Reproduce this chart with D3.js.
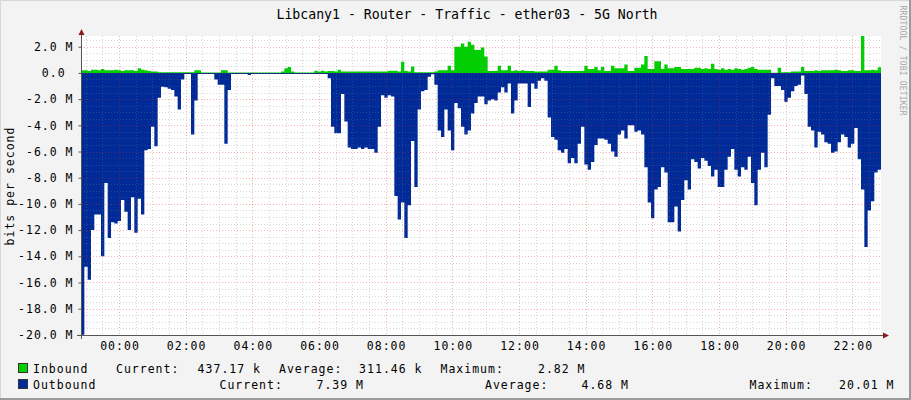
<!DOCTYPE html>
<html><head><meta charset="utf-8">
<script src="https://cdn.jsdelivr.net/npm/d3@7"></script>
<style>
html,body{margin:0;padding:0;background:#f3f3f3;}
svg{display:block;}
text{font-family:"DejaVu Sans Mono",monospace;fill:#000;}
</style></head><body>
<svg id="chart" width="911" height="400"></svg>
<script>
const title = "Libcany1 - Router - Traffic - ether03 - 5G North";
const yLabel = "bits per second";
const watermark = "RRDTOOL / TOBI OETIKER";
const seriesNames = ["Inbound", "Outbound"];
const seriesColors = ["#00CF00", "#002A97"];
const statLabels = ["Current:", "Average:", "Maximum:"];
const inboundStats = ["437.17 k", "311.46 k", "2.82 M"];
const outboundStats = ["7.39 M", "4.68 M", "20.01 M"];
const yMajorTicks = [2, 0, -2, -4, -6, -8, -10, -12, -14, -16, -18, -20];
const yTickLabels = ["2.0 M", "0.0 ", "-2.0 M", "-4.0 M", "-6.0 M", "-8.0 M", "-10.0 M", "-12.0 M", "-14.0 M", "-16.0 M", "-18.0 M", "-20.0 M"];
const xTickLabels = ["00:00","02:00","04:00","06:00","08:00","10:00","12:00","14:00","16:00","18:00","20:00","22:00"];
const yMin = -20.01, yMax = 2.82;          // M bits/s
const startOffsetMin = -68.4;             // data start, minutes from 00:00
const spanMin = 1440;
const stepMin = 6;

// Inbound, M bits/s, one value per 6-minute step
const inbound = [
 0.2,0.2,0.15,0.25,0.25,0.2,0.3,0.2,0.2,0.2,
 0.25,0.2,0.15,0.2,0.2,0.2,0.15,0.35,0.25,0.2,
 0.15,0.1,0.1,0.05,0.05,0.05,0.05,0.05,0.05,0.05,
 0.05,0.05,0.05,0.05,0.2,0.2,0.03,0.03,0.03,0.03,
 0.03,0.03,0.2,0.2,0.03,0.03,0.03,0.03,0.03,0.03,
 0.03,0.03,0.03,0.03,0.03,0.03,0.03,0.03,0.03,0.03,
 0.1,0.35,0.45,0.1,0.03,0.03,0.03,0.03,0.03,0.03,
 0.17,0.1,0.17,0.1,0.15,0.15,0.1,0.25,0.1,0.1,
 0.1,0.1,0.1,0.1,0.1,0.1,0.1,0.1,0.1,0.1,
 0.1,0.1,0.17,0.17,0.17,0.1,0.85,0.15,0.1,0.5,
 0.05,0.05,0.05,0.05,0.05,0.05,0.1,0.2,0.2,0.2,
 0.55,0.2,2.0,2.0,2.25,2.0,2.38,2.15,1.75,1.75,
 1.95,1.25,0.15,0.15,0.15,0.55,0.2,0.2,0.55,0.15,
 0.2,0.15,0.2,0.15,0.15,0.15,0.1,0.1,0.1,0.1,
 0.25,0.25,0.55,0.2,0.15,0.15,0.15,0.15,0.15,0.15,
 0.15,0.55,0.3,0.3,0.45,0.2,0.45,0.15,0.15,0.55,
 0.35,0.35,0.35,0.65,0.15,0.15,0.4,0.4,0.65,1.3,
 0.3,0.3,0.9,0.9,0.3,0.65,0.35,0.35,0.45,0.45,
 0.3,0.3,0.3,0.3,0.4,0.4,0.3,0.35,0.3,0.7,
 0.3,0.25,0.35,0.25,0.3,0.25,0.35,0.3,0.25,0.3,
 0.4,0.45,0.3,0.25,0.25,0.25,0.25,0.02,0.02,0.4,
 0.05,0.05,0.05,0.1,0.1,0.1,0.45,0.15,0.15,0.15,
 0.2,0.15,0.2,0.2,0.2,0.2,0.25,0.2,0.15,0.15,
 0.2,0.2,0.15,0.15,2.82,0.2,0.2,0.25,0.2,0.437
];

// Outbound magnitude, M bits/s (drawn below zero)
const outbound = [
 20.0,14.8,15.8,12.0,10.8,10.8,14.0,8.4,12.6,11.4,
 11.5,11.3,9.7,10.6,12.0,9.5,12.2,9.6,10.8,5.9,
 5.8,4.1,5.6,1.9,1.05,1.1,1.2,1.3,1.8,2.8,
 0.5,0.08,0.08,4.7,2.1,0.08,0.08,0.08,0.08,0.08,
 0.5,0.9,0.9,5.4,1.3,0.08,0.08,0.08,0.08,0.08,
 0.15,0.08,0.08,0.08,0.08,0.08,0.08,0.08,0.08,0.08,
 0.08,0.08,0.08,0.08,0.08,0.08,0.08,0.08,0.08,0.08,
 0.08,0.08,0.08,0.08,0.4,4.1,4.6,4.6,1.6,3.7,
 5.7,5.8,5.8,5.7,5.8,5.7,5.8,5.8,6.1,4.1,
 1.7,1.9,1.7,1.8,9.4,11.2,9.9,12.6,10.1,5.2,
 8.7,2.8,1.4,1.3,0.3,0.1,0.9,4.4,4.9,2.8,
 4.4,5.9,2.3,2.7,4.1,4.7,4.4,3.1,2.3,1.8,
 1.8,2.4,2.1,2.0,2.1,1.5,1.1,1.5,0.8,3.1,
 2.1,0.8,0.8,0.8,2.6,0.8,1.2,0.6,0.4,0.6,
 3.4,4.9,5.1,5.9,6.1,5.8,6.9,6.5,6.9,5.4,
 4.1,7.0,7.4,6.8,5.5,5.0,5.0,5.1,5.4,6.0,
 6.4,4.7,4.4,5.0,4.0,4.0,4.5,4.4,4.7,7.2,
 9.9,11.1,8.9,8.7,7.2,7.6,11.4,11.4,10.2,12.1,
 9.7,8.2,8.9,6.6,6.8,7.3,6.5,6.7,7.1,7.9,
 7.4,8.7,8.7,7.4,6.4,5.8,7.4,7.9,7.2,7.4,
 6.4,8.4,10.1,7.4,6.1,7.2,3.2,0.4,1.0,1.0,
 1.3,2.2,1.9,1.4,1.0,0.9,0.2,1.6,4.1,4.4,
 5.7,4.5,4.7,5.3,5.4,6.1,6.0,5.3,4.7,4.9,
 5.7,5.4,4.2,6.6,8.9,13.3,10.5,9.8,7.6,7.39
];

const W = 911, H = 400;
const plot = {left: 81, right: 881, top: 36, bottom: 335};
const svg = d3.select("#chart");
const midnight = Date.UTC(2024, 0, 2, 0, 0);
const tAt = m => new Date(midnight + m * 60000);
const t0 = tAt(startOffsetMin), t1 = tAt(startOffsetMin + spanMin);

const x = d3.scaleUtc().domain([t0, t1]).range([plot.left, plot.right]);
const y = d3.scaleLinear().domain([yMin, yMax]).range([plot.bottom, plot.top]);

// background + frame
svg.append("rect").attr("width", W).attr("height", H).attr("fill", "#f3f3f3");
svg.append("path").attr("d", `M0.5,${H}V0.5H${W}`).attr("stroke", "#d8d8d8").attr("fill", "none").attr("stroke-width", 1);
svg.append("path").attr("d", `M${W-1},0V${H-1}H0`).attr("stroke", "#9a9a9a").attr("fill", "none").attr("stroke-width", 2);
svg.append("rect").attr("x", plot.left).attr("y", plot.top)
  .attr("width", plot.right - plot.left).attr("height", plot.bottom - plot.top).attr("fill", "#fff");

function series(vals, sign) {
  const pts = vals.map((v, i) => ({t: tAt(startOffsetMin + i * stepMin), v: sign * v}));
  pts.push({t: t1, v: sign * vals[vals.length - 1]});
  return pts;
}
const area = d3.area().curve(d3.curveStepAfter)
  .x(d => x(d.t)).y0(y(0)).y1(d => y(d.v));
svg.append("path").datum(series(outbound, -1)).attr("d", area).attr("fill", seriesColors[1]);
svg.append("path").datum(series(inbound, 1)).attr("d", area).attr("fill", seriesColors[0]);

// grid
const gGrid = svg.append("g");
const minorCol = "rgba(128,128,128,0.32)", majorCol = "rgba(230,40,40,0.36)";
const minorY = d3.range(-20, 2.6, 0.5).filter(v => Math.abs(v % 2) > 1e-9);
const minorX = d3.utcMinute.every(30).range(t0, t1).filter(t => t.getUTCMinutes() !== 0 || t.getUTCHours() % 2 !== 0);
const majorX = xTickLabels.map(s => tAt(+s.slice(0, 2) * 60 + +s.slice(3)));
gGrid.selectAll(".minY").data(minorY).join("line")
  .attr("x1", plot.left).attr("x2", plot.right).attr("y1", d => Math.round(y(d)) + 0.5).attr("y2", d => Math.round(y(d)) + 0.5)
  .attr("stroke", minorCol).attr("stroke-dasharray", "1,2");
gGrid.selectAll(".minX").data(minorX).join("line")
  .attr("y1", plot.top).attr("y2", plot.bottom).attr("x1", d => Math.round(x(d)) + 0.5).attr("x2", d => Math.round(x(d)) + 0.5)
  .attr("stroke", minorCol).attr("stroke-dasharray", "1,2");
gGrid.selectAll(".majY").data(yMajorTicks).join("line")
  .attr("x1", plot.left).attr("x2", plot.right).attr("y1", d => Math.round(y(d)) + 0.5).attr("y2", d => Math.round(y(d)) + 0.5)
  .attr("stroke", majorCol).attr("stroke-dasharray", "1,2");
gGrid.selectAll(".majX").data(majorX).join("line")
  .attr("y1", plot.top).attr("y2", plot.bottom).attr("x1", d => Math.round(x(d)) + 0.5).attr("x2", d => Math.round(x(d)) + 0.5)
  .attr("stroke", majorCol).attr("stroke-dasharray", "1,2");

// axes
const LS = "1px";
const yAxis = d3.axisLeft(y).tickValues(yMajorTicks).tickSize(3).tickPadding(6)
  .tickFormat((d, i) => yTickLabels[i]);
const gy = svg.append("g").attr("transform", `translate(${plot.left + 0.5},0)`).call(yAxis);
gy.select(".domain").remove();
gy.selectAll(".tick line").attr("stroke", "#555");
gy.selectAll("text").attr("font-family", "DejaVu Sans Mono").attr("font-size", 11.5)
  .style("letter-spacing", LS).style("white-space", "pre").attr("fill", "#000").attr("x", -8);

const xAxis = d3.axisBottom(x).tickValues(majorX).tickSize(0).tickPadding(7)
  .tickFormat((d, i) => xTickLabels[i]);
const gx = svg.append("g").attr("transform", `translate(0,${plot.bottom})`).call(xAxis);
gx.select(".domain").remove();
gx.selectAll("text").attr("font-family", "DejaVu Sans Mono").attr("font-size", 11.5)
  .style("letter-spacing", LS).attr("fill", "#000").attr("dx", "0.5");

svg.append("line").attr("x1", 77).attr("x2", 884).attr("y1", plot.bottom + 0.5).attr("y2", plot.bottom + 0.5).attr("stroke", "#555");
svg.append("line").attr("x1", plot.left + 0.5).attr("x2", plot.left + 0.5).attr("y1", 33).attr("y2", 339).attr("stroke", "#555");
svg.append("path").attr("d", `M${plot.left + 0.5},29L${plot.left - 2.5},35L${plot.left + 3.5},35Z`).attr("fill", "#8a1c1c");
svg.append("path").attr("d", `M889,${plot.bottom + 0.5}L883,${plot.bottom - 2.5}L883,${plot.bottom + 3.5}Z`).attr("fill", "#8a1c1c");

// title & labels
svg.append("text").attr("x", 467).attr("y", 19).attr("text-anchor", "middle")
  .attr("font-size", 13.2).text(title);
svg.append("text").attr("transform", "translate(14,186) rotate(-90)").attr("text-anchor", "middle")
  .attr("font-size", 11.5).style("letter-spacing", LS).text(yLabel);
svg.append("text").attr("transform", "translate(899.5,5.5) rotate(90)").attr("text-anchor", "start")
  .attr("font-size", 8).style("letter-spacing", "0.2px").style("fill", "#a8a8a8").text(watermark);

// legend
const legendRows = [
  {name: seriesNames[0], color: seriesColors[0], stats: inboundStats, base: 373,
   labelX: [116, 279, 440.5], valEnd: [261, 422.5, 585.5]},
  {name: seriesNames[1], color: seriesColors[1], stats: outboundStats, base: 389,
   labelX: [219.5, 485, 749.5], valEnd: [364, 629, 894.5]}
];
const lg = svg.append("g").attr("font-size", 11.5).style("letter-spacing", LS);
legendRows.forEach(r => {
  lg.append("rect").attr("x", 18.5).attr("y", r.base - 9.5).attr("width", 9).attr("height", 9)
    .attr("fill", r.color).attr("stroke", "#333").attr("stroke-width", 1);
  lg.append("text").attr("x", 33).attr("y", r.base).text(r.name);
  statLabels.forEach((s, i) => {
    lg.append("text").attr("x", r.labelX[i]).attr("y", r.base).text(s);
    lg.append("text").attr("x", r.valEnd[i]).attr("y", r.base).attr("text-anchor", "end").text(r.stats[i]);
  });
});
</script>
</body></html>
